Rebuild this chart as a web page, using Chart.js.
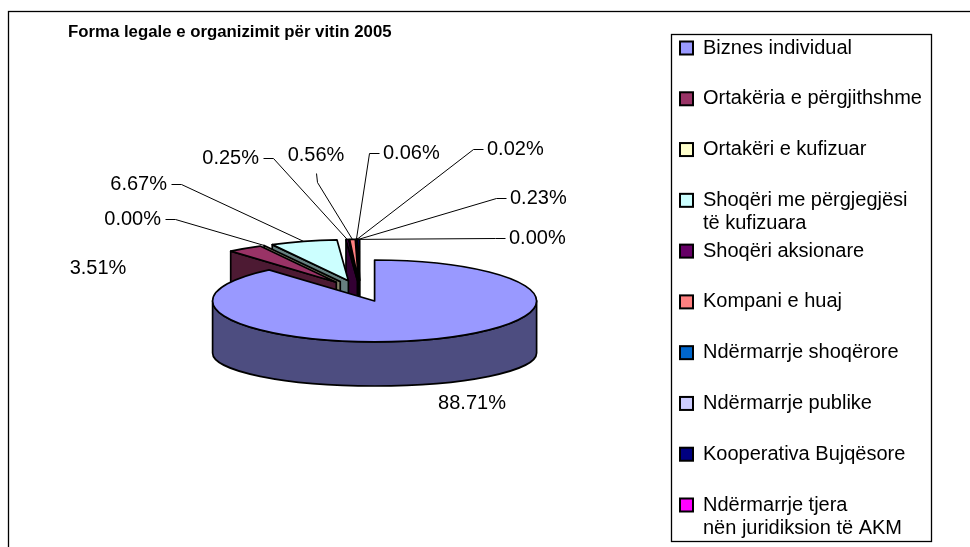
<!DOCTYPE html>
<html>
<head>
<meta charset="utf-8">
<script src="https://cdn.jsdelivr.net/npm/chart.js@4/dist/chart.umd.min.js"></script>
<style>
html, body { margin: 0; padding: 0; background: #fff; }
#wrap { width: 970px; height: 547px; position: relative; }
</style>
</head>
<body>
<div id="wrap"><canvas id="grafikPite" width="970" height="547"></canvas></div>
<script>
// te dhenat
var kategorite = [
    'Biznes individual',
    'Ortakëria e përgjithshme',
    'Ortakëri e kufizuar',
    ['Shoqëri me përgjegjësi', 'të kufizuara'],
    'Shoqëri aksionare',
    'Kompani e huaj',
    'Ndërmarrje shoqërore',
    'Ndërmarrje publike',
    'Kooperativa Bujqësore',
    ['Ndërmarrje tjera', 'nën juridiksion të AKM']
];
var perqindjet = [88.71, 3.51, 0.00, 6.67, 0.25, 0.56, 0.06, 0.02, 0.23, 0.00];
var ngjyrat = ['#9999FF', '#993366', '#FFFFCC', '#CCFFFF', '#660066', '#FF8080', '#0066CC', '#CCCCFF', '#000080', '#FF00FF'];
var titulli = 'Forma legale e organizimit për vitin 2005';

// vendi i etiketave (x, y, drejtimi, lloji i vijes)
var etiketat = [
    [472, 403, 'center', ''],
    [98, 268, 'center', ''],
    [161, 219, 'right', 'djathtas'],
    [167, 184, 'right', 'djathtas'],
    [259, 158, 'right', 'djathtas'],
    [316, 155, 'center', 'poshte'],
    [383, 153, 'left', 'majtas'],
    [487, 149, 'left', 'majtas'],
    [510, 198, 'left', 'majtas'],
    [509, 238, 'left', 'majtas']
];

var K = 0.253;      // shtypja vertikale e faqes se siperme
var K2 = 0.204;     // shtypja e faqes se poshtme (perspektiva)
var THELLESIA = 52; // trashesia e pites
var SHKRONJA = '"Liberation Sans", Arial, sans-serif';

function erret(hex, f) {
    var n = parseInt(hex.slice(1), 16);
    var r = Math.round(((n >> 16) & 255) * f);
    var g = Math.round(((n >> 8) & 255) * f);
    var b = Math.round((n & 255) * f);
    return 'rgb(' + r + ',' + g + ',' + b + ')';
}

function pjesetPites(chart) {
    var meta = chart.getDatasetMeta(0);
    return meta.data.map(function (arc, i) {
        var p = arc.getProps(['x', 'y', 'startAngle', 'endAngle', 'outerRadius'], true);
        var off = arc.options.offset || 0;
        var mes = (p.startAngle + p.endAngle) / 2;
        return {
            i: i,
            x: p.x + Math.cos(mes) * off,
            y: p.y + Math.sin(mes) * off * K,
            r: p.outerRadius,
            a0: p.startAngle,
            a1: p.endAngle,
            mes: mes,
            ngj: arc.options.backgroundColor
        };
    });
}

function muri(ctx, s, a) {
    var c = Math.cos(a), sn = Math.sin(a);
    ctx.beginPath();
    ctx.moveTo(s.x, s.y);
    ctx.lineTo(s.x + s.r * c, s.y + s.r * K * sn);
    ctx.lineTo(s.x + s.r * c, s.y + THELLESIA + s.r * K2 * sn);
    ctx.lineTo(s.x, s.y + THELLESIA);
    ctx.closePath();
    ctx.fill();
    ctx.stroke();
}

var pite3d = {
    id: 'pite3d',
    beforeDatasetsDraw: function (chart) {
        var ctx = chart.ctx;
        var pjeset = pjesetPites(chart);
        var renditja = pjeset.slice().sort(function (a, b) {
            return Math.sin(a.mes) - Math.sin(b.mes);
        });
        ctx.save();
        ctx.lineJoin = 'round';
        ctx.strokeStyle = '#000';
        ctx.lineWidth = 1.7;
        renditja.forEach(function (s) {
            ctx.fillStyle = erret(s.ngj, 0.5);
            // muret rrezore
            if (Math.cos(s.a0) < -1e-6) muri(ctx, s, s.a0);
            if (Math.cos(s.a1) > 1e-6) muri(ctx, s, s.a1);
            // muri i jashtem (pjesa e perparme)
            var fi = Math.max(s.a0, 0), mb = Math.min(s.a1, Math.PI);
            if (mb > fi) {
                ctx.beginPath();
                ctx.ellipse(s.x, s.y, s.r, s.r * K, 0, fi, mb, false);
                ctx.lineTo(s.x + s.r * Math.cos(mb), s.y + THELLESIA + s.r * K2 * Math.sin(mb));
                ctx.ellipse(s.x, s.y + THELLESIA, s.r, s.r * K2, 0, mb, fi, true);
                ctx.closePath();
                ctx.fill();
                ctx.stroke();
            }
            // faqja e siperme
            if (s.a1 > s.a0) {
                ctx.fillStyle = s.ngj;
                ctx.beginPath();
                ctx.moveTo(s.x, s.y);
                ctx.ellipse(s.x, s.y, s.r, s.r * K, 0, s.a0, s.a1, false);
                ctx.closePath();
                ctx.fill();
                ctx.stroke();
            }
        });

        // etiketat e vlerave
        ctx.font = '20px ' + SHKRONJA;
        ctx.textBaseline = 'middle';
        ctx.fillStyle = '#000';
        ctx.lineWidth = 1;
        pjeset.forEach(function (s) {
            var e = etiketat[s.i];
            var tekst = perqindjet[s.i].toFixed(2) + '%';
            ctx.textAlign = e[2];
            ctx.fillText(tekst, e[0], e[1]);
            if (!e[3]) return;
            var ax = s.x + s.r * Math.cos(s.mes), ay = s.y + s.r * K * Math.sin(s.mes);
            var x1, y1, x2, y2;
            if (e[3] === 'djathtas') { x1 = e[0] + 4; y1 = e[1]; x2 = e[0] + 14; y2 = e[1]; }
            else if (e[3] === 'majtas') { x1 = e[0] - 4; y1 = e[1]; x2 = e[0] - 14; y2 = e[1]; }
            else { x1 = e[0]; y1 = e[1] + 18; x2 = e[0] + 1; y2 = e[1] + 27; }
            ctx.strokeStyle = '#000';
            ctx.beginPath();
            ctx.moveTo(x1 + 0.5, y1 + 0.5);
            ctx.lineTo(x2 + 0.5, y2 + 0.5);
            ctx.lineTo(ax, ay);
            ctx.stroke();
        });
        ctx.restore();
        return false;
    },
    afterDraw: function (chart) {
        var ctx = chart.ctx;
        ctx.save();
        // korniza e grafikut
        ctx.strokeStyle = '#000';
        ctx.lineWidth = 1.3;
        ctx.strokeRect(8.5, 11.5, 1000, 600);
        // titulli
        ctx.fillStyle = '#000';
        ctx.font = 'bold 16.8px ' + SHKRONJA;
        ctx.textAlign = 'left';
        ctx.textBaseline = 'middle';
        ctx.fillText(titulli, 68, 32);
        // legjenda
        ctx.strokeRect(671.5, 34.5, 260, 507);
        ctx.font = '20px ' + SHKRONJA;
        var hapi = (505 - 48) / 9;
        chart.data.labels.forEach(function (lab, i) {
            var y = 48 + i * hapi;
            ctx.fillStyle = ngjyrat[i];
            ctx.fillRect(680, y - 6.5, 13, 13);
            ctx.lineWidth = 2;
            ctx.strokeStyle = '#000';
            ctx.strokeRect(680, y - 6.5, 13, 13);
            ctx.fillStyle = '#000';
            var rreshtat = Array.isArray(lab) ? lab : [lab];
            rreshtat.forEach(function (r, j) {
                ctx.fillText(r, 703, y + j * 23);
            });
        });
        ctx.restore();
    }
};

Chart.defaults.font.family = SHKRONJA;

var ctx = document.getElementById('grafikPite').getContext('2d');
var grafiku = new Chart(ctx, {
    type: 'pie',
    data: {
        labels: kategorite,
        datasets: [{
            label: titulli,
            data: perqindjet,
            backgroundColor: ngjyrat,
            borderColor: '#000',
            borderWidth: 1.5,
            offset: 42
        }]
    },
    options: {
        responsive: false,
        animation: false,
        radius: 162,
        layout: { padding: { left: 0, right: 250, top: 35, bottom: 0 } },
        plugins: {
            legend: { display: false },
            title: { display: false },
            tooltip: { enabled: false }
        }
    },
    plugins: [pite3d]
});
</script>
</body>
</html>
